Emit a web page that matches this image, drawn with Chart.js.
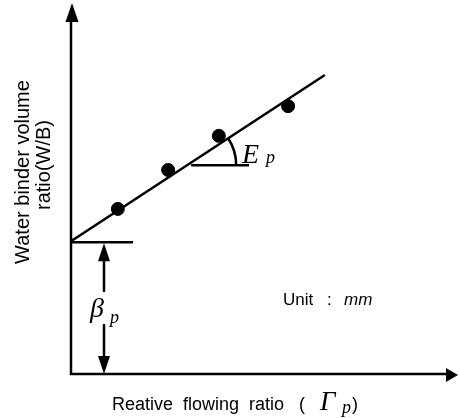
<!DOCTYPE html>
<html>
<head>
<meta charset="utf-8">
<script src="https://cdn.jsdelivr.net/npm/chart.js@4/dist/chart.umd.min.js"></script>
<style>
  html, body { margin: 0; padding: 0; background: #fff; }
  #wrap { width: 460px; height: 418px; position: relative; }
</style>
</head>
<body>
<div id="wrap"><canvas id="wbChart"></canvas></div>
<script>
// measured points: relative flowing ratio vs water binder volume ratio
const flowRatio = [1.21, 2.51, 3.82, 5.61];
const wbRatio = [4.45, 5.50, 6.42, 7.22];

// fitted straight line (intercept = beta_p)
const fitX = [0, 6.56];
const fitY = [3.58, 8.06];

const axisMax = 10;
const ink = '#000';

function arrowHead(ctx, x, y, dir, len, half) {
    // dir: 'up' | 'down' | 'right'
    ctx.beginPath();
    if (dir === 'up') {
        ctx.moveTo(x, y); ctx.lineTo(x - half, y + len); ctx.lineTo(x + half, y + len);
    } else if (dir === 'down') {
        ctx.moveTo(x, y); ctx.lineTo(x - half, y - len); ctx.lineTo(x + half, y - len);
    } else {
        ctx.moveTo(x, y); ctx.lineTo(x - len, y - half); ctx.lineTo(x - len, y + half);
    }
    ctx.closePath();
    ctx.fill();
}

// draws the arrowed axes, beta_p / E_p markers and the text
const sketchPlugin = {
    id: 'sketch',
    afterDraw(chart) {
        const ctx = chart.ctx;
        const xs = chart.scales.x, ys = chart.scales.y;
        const area = chart.chartArea;
        const ox = xs.getPixelForValue(0), oy = ys.getPixelForValue(0);

        ctx.save();
        ctx.strokeStyle = ink;
        ctx.fillStyle = ink;
        ctx.lineCap = 'butt';

        // axes
        ctx.lineWidth = 2.5;
        ctx.beginPath();
        ctx.moveTo(ox, oy + 1);
        ctx.lineTo(ox, area.top + 15);
        ctx.moveTo(ox - 1, oy);
        ctx.lineTo(area.right - 10, oy);
        ctx.stroke();
        arrowHead(ctx, ox + 1, area.top, 'up', 19, 6.5);
        arrowHead(ctx, area.right, oy + 1, 'right', 12, 7);

        // intercept tick
        const by = ys.getPixelForValue(fitY[0]);
        ctx.beginPath();
        ctx.moveTo(ox, by + 1);
        ctx.lineTo(ox + 62, by + 1);
        ctx.stroke();

        // beta_p double arrow
        const bx = ox + 33;
        ctx.lineWidth = 2.5;
        ctx.beginPath();
        ctx.moveTo(bx, by + 15); ctx.lineTo(bx, 292);
        ctx.moveTo(bx, 324); ctx.lineTo(bx, oy - 15);
        ctx.stroke();
        arrowHead(ctx, bx, by + 2, 'up', 18, 6);
        arrowHead(ctx, bx, oy, 'down', 18, 6);

        ctx.textBaseline = 'alphabetic';
        ctx.textAlign = 'left';
        ctx.font = 'italic 28px "Liberation Serif"';
        ctx.fillText('\u03b2', bx - 14, 317);
        ctx.font = 'italic 18px "Liberation Serif"';
        ctx.fillText('p', bx + 6, 323);

        // slope angle E_p
        const slope = (fitY[1] - fitY[0]) / (fitX[1] - fitX[0]);
        const hy = 5.63;
        const hx = fitX[0] + (hy - fitY[0]) / slope;
        const cx = xs.getPixelForValue(hx), cy = ys.getPixelForValue(hy);
        const hEnd = xs.getPixelForValue(4.6);
        const pxSlope = (ys.getPixelForValue(fitY[1]) - ys.getPixelForValue(fitY[0])) /
                        (xs.getPixelForValue(fitX[1]) - xs.getPixelForValue(fitX[0]));
        ctx.beginPath();
        ctx.moveTo(cx + 4, cy);
        ctx.lineTo(hEnd, cy);
        ctx.stroke();
        ctx.beginPath();
        ctx.arc(cx, cy, 49, Math.atan(pxSlope), 0);
        ctx.stroke();
        ctx.font = 'italic 28px "Liberation Serif"';
        ctx.fillText('E', 242, 163);
        ctx.font = 'italic 18px "Liberation Serif"';
        ctx.fillText('p', 266, 163);

        // unit note
        ctx.font = '17px "Liberation Sans"';
        ctx.fillText('Unit', 283, 305);
        ctx.fillText(':', 327, 305);
        ctx.font = 'italic 17px "Liberation Sans"';
        ctx.fillText('mm', 344, 305);

        // x axis title
        ctx.font = '18px "Liberation Sans"';
        ctx.fillText('Reative  flowing  ratio   (', 112, 410);
        ctx.font = 'italic 27px "Liberation Serif"';
        ctx.fillText('\u0393', 320, 410);
        ctx.font = 'italic 18px "Liberation Serif"';
        ctx.fillText('p', 342, 413);
        ctx.font = '18px "Liberation Sans"';
        ctx.fillText(')', 352, 410);

        // y axis title, two rotated lines
        ctx.save();
        ctx.translate(29, 172);
        ctx.rotate(-Math.PI / 2);
        ctx.textAlign = 'center';
        ctx.font = '20px "Liberation Sans"';
        ctx.fillText('Water binder volume', 0, 0);
        ctx.translate(7, 21);
        ctx.fillText('ratio(W/B)', 0, 0);
        ctx.restore();

        ctx.restore();
    }
};

const ctx = document.getElementById('wbChart').getContext('2d');
new Chart(ctx, {
    type: 'scatter',
    data: {
        datasets: [
            {
                label: 'fit',
                data: fitX.map((x, i) => ({ x: x, y: fitY[i] })),
                showLine: true,
                borderColor: ink,
                borderWidth: 2.5,
                pointRadius: 0,
                order: 2
            },
            {
                label: 'W/B',
                data: flowRatio.map((x, i) => ({ x: x, y: wbRatio[i] })),
                backgroundColor: ink,
                borderColor: ink,
                pointRadius: 6.5,
                order: 1
            }
        ]
    },
    options: {
        responsive: true,
        maintainAspectRatio: false,
        animation: false,
        layout: { autoPadding: false, padding: { left: 71, right: 2, top: 3, bottom: 44 } },
        plugins: { legend: { display: false }, tooltip: { enabled: false } },
        scales: {
            x: { type: 'linear', min: 0, max: axisMax, display: false },
            y: { type: 'linear', min: 0, max: axisMax, display: false }
        }
    },
    plugins: [sketchPlugin]
});
</script>
</body>
</html>
